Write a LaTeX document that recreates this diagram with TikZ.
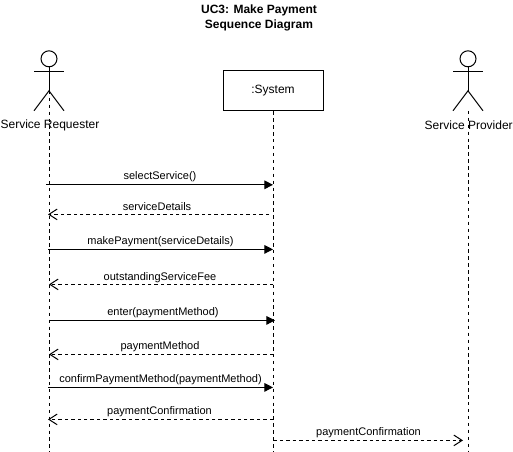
\documentclass[tikz,border=0pt]{standalone}
\usepackage{fontspec}
\setmainfont{Liberation Sans}
\usetikzlibrary{arrows.meta}
\tikzset{
  line/.style={draw=black,line width=0.75pt},
  lifeline/.style={line,dash pattern=on 2.6pt off 2.6pt},
  callmsg/.style={line,-{Triangle[length=6.5pt,width=6.5pt,fill=black]}},
  retmsg/.style={line,dash pattern=on 2.6pt off 2.2pt,-{Straight Barb[length=6.2pt,width=8pt,line width=0.75pt]}},
  msglabel/.style={font=\fontsize{8.25pt}{10pt}\selectfont,inner sep=0pt,text=black,yshift=-1pt},
  actorlabel/.style={font=\fontsize{9pt}{11pt}\selectfont,inner sep=0pt,text=black,yshift=-1pt},
  titlelabel/.style={font=\fontsize{9pt}{11.25pt}\selectfont\bfseries,inner sep=0pt,align=center,text=black,yshift=-1pt},
  sysbox/.style={line,fill=white,minimum width=75pt,minimum height=30pt,inner sep=0pt,font=\fontsize{9pt}{11pt}\selectfont}
}
\begin{document}
\begin{tikzpicture}[x=0.75pt,y=-0.75pt]
\useasboundingbox (0,0) rectangle (513,452);
\begin{scope}[yshift=-0.6pt]
\node[titlelabel] (title) at (259,15.5) {UC3: Make Payment\\Sequence Diagram};

% actors
\node[line,circle,minimum size=12pt,inner sep=0pt] (reqhead) at (49,58) {};
\coordinate (reqhip) at (49,90);
\coordinate (reqarml) at (34,70.5);
\coordinate (reqarmr) at (64,70.5);
\coordinate (reqlegl) at (34,110);
\coordinate (reqlegr) at (64,110);
\draw[line] (reqhead.south) -- (reqhip);
\draw[line] (reqarml) -- (reqarmr);
\draw[line] (reqlegl) -- (reqhip) -- (reqlegr);
\node[actorlabel] (reqlabel) at (50,123.5) {Service Requester};

\node[line,circle,minimum size=12pt,inner sep=0pt] (prohead) at (468,58) {};
\coordinate (prohip) at (468,90);
\coordinate (proarml) at (453,70.5);
\coordinate (proarmr) at (483,70.5);
\coordinate (prolegl) at (453,110);
\coordinate (prolegr) at (483,110);
\draw[line] (prohead.south) -- (prohip);
\draw[line] (proarml) -- (proarmr);
\draw[line] (prolegl) -- (prohip) -- (prolegr);
\node[actorlabel] (prolabel) at (468.7,123.5) {Service Provider};

\node[sysbox] (sys) at (273,90) {:System};

% lifelines
\coordinate (reqend) at (49.5,452);
\coordinate (sysend) at (273.5,452);
\coordinate (proend) at (468.5,452);
\coordinate (reqstart) at (49.5,90);
\coordinate (prostart) at (468.5,110);
\draw[lifeline] (reqstart) -- (reqend);
\draw[lifeline] (sys.south) ++(0.5,0) -- (sysend);
\draw[lifeline] (prostart) -- (proend);

% messages
\coordinate (a1) at (46,184);   \coordinate (b1) at (273,184);
\coordinate (a2) at (48,213.6); \coordinate (b2) at (269,213.6);
\coordinate (a3) at (48,248.6); \coordinate (b3) at (273,248.6);
\coordinate (a4) at (49,283.6); \coordinate (b4) at (273,283.6);
\coordinate (a5) at (49,319.6); \coordinate (b5) at (275,319.6);
\coordinate (a6) at (49,353.6); \coordinate (b6) at (273,353.6);
\coordinate (a7) at (48,386.6); \coordinate (b7) at (273,386.6);
\coordinate (a8) at (48,418.6); \coordinate (b8) at (273,418.6);
\coordinate (a9) at (273.5,439.6); \coordinate (b9) at (463,439.6);

\draw[callmsg] (a1) -- (b1);
\draw[retmsg] (b2) -- (a2);
\draw[callmsg] (a3) -- (b3);
\draw[retmsg] (b4) -- (a4);
\draw[callmsg] (a5) -- (b5);
\draw[retmsg] (b6) -- (a6);
\draw[callmsg] (a7) -- (b7);
\draw[retmsg] (b8) -- (a8);
\draw[retmsg] (a9) -- (b9);

\node[msglabel] (m1) at (160,175) {selectService()};
\node[msglabel] (m2) at (157,204) {serviceDetails};
\node[msglabel] (m3) at (160.5,240) {makePayment(serviceDetails)};
\node[msglabel] (m4) at (160,275.5) {outstandingServiceFee};
\node[msglabel] (m5) at (163,311) {enter(paymentMethod)};
\node[msglabel] (m6) at (160,345) {paymentMethod};
\node[msglabel] (m7) at (160.5,378) {confirmPaymentMethod(paymentMethod)};
\node[msglabel] (m8) at (159.5,410) {paymentConfirmation};
\node[msglabel] (m9) at (368.5,431) {paymentConfirmation};
\end{scope}
\end{tikzpicture}
\end{document}
